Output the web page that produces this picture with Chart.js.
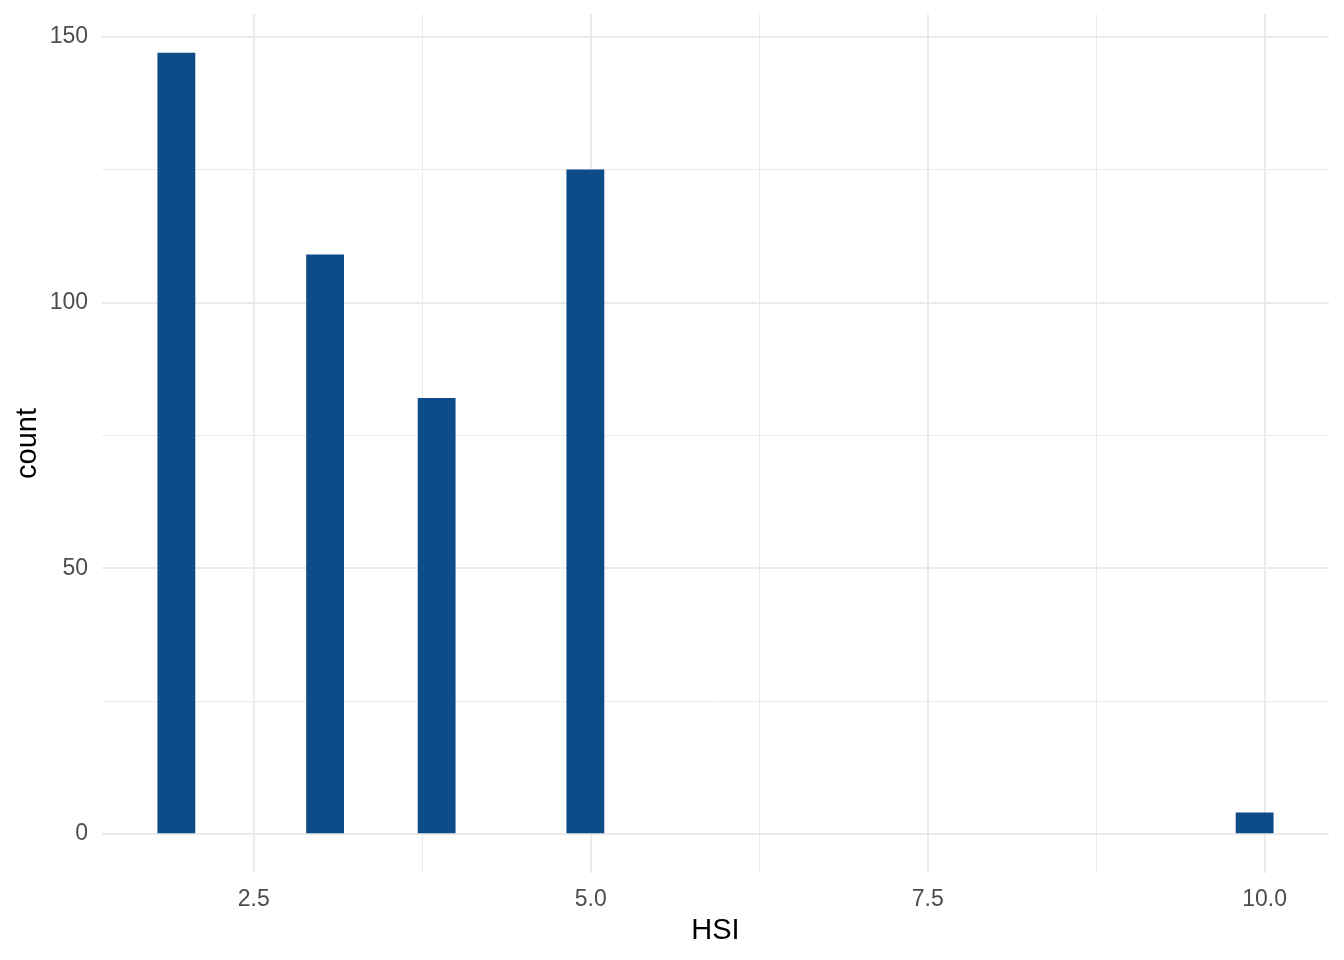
<!DOCTYPE html>
<html>
<head>
<meta charset="utf-8">
<script src="https://cdn.jsdelivr.net/npm/chart.js@4/dist/chart.umd.min.js"></script>
<style>
  html, body { margin: 0; padding: 0; background: #ffffff; }
  #wrap { width: 1344px; height: 960px; }
</style>
</head>
<body>
<div id="wrap"><canvas id="histChart" width="1344" height="960"></canvas></div>
<script>
// histogram: 30 bins, first bin starts at binStart, each binWidth wide
const binStart = 1.7877;
const binWidth = 8 / 29;
const binCounts = [147, 0, 0, 0, 109, 0, 0, 82, 0, 0, 0, 125, 0, 0, 0,
                   0, 0, 0, 0, 0, 0, 0, 0, 0, 0, 0, 0, 0, 0, 4];
const xTicks = [2.5, 3.75, 5, 6.25, 7.5, 8.75, 10];
const yTicks = [0, 25, 50, 75, 100, 125, 150];
const xMajor = [2.5, 5, 7.5, 10];
const yMajor = [0, 50, 100, 150];

const barColor  = '#0D4C89';
const gridColor = '#EBEBEB';
const tickColor = '#4D4D4D';
const fontFam   = '"Liberation Sans", Arial, sans-serif';

const points = binCounts.map((c, i) => ({ x: binStart + (i + 0.5) * binWidth, y: c }));
const xLo = binStart, xHi = binStart + binCounts.length * binWidth;
const yHi = Math.max(...binCounts);

const ctx = document.getElementById('histChart').getContext('2d');
new Chart(ctx, {
  type: 'bar',
  data: {
    datasets: [{
      data: points,
      // empty bins get no fill, otherwise a hairline shows on the baseline
      backgroundColor: c => (c.raw && c.raw.y > 0) ? barColor : 'rgba(0,0,0,0)',
      borderWidth: 0,
      barPercentage: 1,
      categoryPercentage: 1
    }]
  },
  options: {
    responsive: false,
    animation: false,
    layout: { padding: { top: 14, right: 15, left: 0, bottom: 0 } },
    plugins: { legend: { display: false }, tooltip: { enabled: false } },
    scales: {
      x: {
        type: 'linear',
        offset: false,
        min: xLo - 0.05 * (xHi - xLo),
        max: xHi + 0.05 * (xHi - xLo),
        afterBuildTicks: s => { s.ticks = xTicks.map(v => ({ value: v })); },
        afterFit: s => { s.height = 87; s.paddingLeft = 0; s.paddingRight = 0; },
        border: { display: false },
        grid: {
          offset: false,
          drawTicks: false,
          color: gridColor,
          lineWidth: c => xMajor.includes(c.tick && c.tick.value) ? 2 : 1
        },
        ticks: {
          autoSkip: false, maxRotation: 0, padding: 13,
          color: tickColor, font: { family: fontFam, size: 23 },
          callback: v => xMajor.includes(v) ? v.toFixed(1) : ''
        },
        title: {
          display: true, text: 'HSI', color: '#000000',
          font: { family: fontFam, size: 29 }, padding: { top: 0, bottom: 12 }
        }
      },
      y: {
        min: -0.05 * yHi,
        max: yHi * 1.05,
        afterBuildTicks: s => { s.ticks = yTicks.map(v => ({ value: v })); },
        afterFit: s => { s.width = 102; s.paddingTop = 0; s.paddingBottom = 0; },
        border: { display: false },
        grid: {
          drawTicks: false,
          color: gridColor,
          lineWidth: c => yMajor.includes(c.tick && c.tick.value) ? 2 : 1
        },
        ticks: {
          autoSkip: false, padding: 14,
          color: tickColor, font: { family: fontFam, size: 23 },
          callback: v => yMajor.includes(v) ? String(v) : ''
        },
        title: {
          display: true, text: 'count', color: '#000000',
          font: { family: fontFam, size: 29 }, padding: { top: 11 }
        }
      }
    }
  }
});
</script>
</body>
</html>
